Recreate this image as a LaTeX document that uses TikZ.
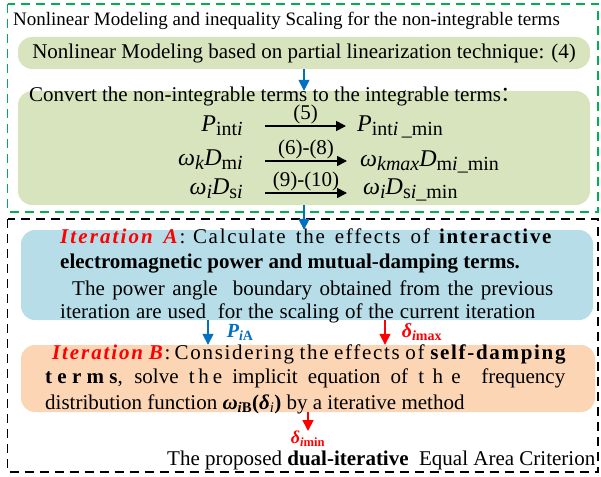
\documentclass[tikz,border=0pt]{standalone}
\usepackage{fontspec}
\setmainfont{Liberation Serif}
\newfontfamily\cjk{Noto Sans CJK SC}
\usetikzlibrary{arrows.meta,positioning}

\definecolor{FlowGreen}{RGB}{215,228,189}
\definecolor{FlowBlue}{RGB}{183,222,232}
\definecolor{FlowOrange}{RGB}{252,213,181}
\definecolor{FrameGreen}{RGB}{0,176,80}
\definecolor{ArrowBlue}{RGB}{0,112,192}
\definecolor{ArrowRed}{RGB}{255,0,0}

\newcommand{\spaced}[2][8]{{\addfontfeature{LetterSpace=#1}#2}}
\newcommand{\subtxt}[1]{\textsubscript{#1}}
\newcommand{\eqsub}[1]{\raisebox{-4pt}{\fontsize{20}{22}\selectfont #1}}
\newcommand{\bi}[1]{\textbf{\textit{#1}}}

\tikzset{
  dashframe/.style={dash pattern=on 9pt off 6pt, line width=1.3pt},
  stepbox/.style={rectangle, rounded corners=14pt, inner sep=0pt},
  textline/.style={anchor=base west, inner sep=0pt, font=\fontsize{21}{25}\selectfont},
  term/.style={inner sep=0pt, font=\fontsize{24}{26}\selectfont},
  eqarrow/.style={-{Triangle[length=10pt,width=10pt]}, line width=1.6pt},
  eqlabel/.style={above=1pt, inner sep=0pt, font=\fontsize{21}{22}\selectfont},
  flowarrow/.style={-{Triangle[length=11pt,width=11pt]}, line width=1.6pt},
  flowlabel/.style={inner sep=0pt, font=\fontsize{20}{21}\selectfont\bfseries\itshape},
}

\begin{document}
\begin{tikzpicture}[x=1pt, y=-1pt]
  \useasboundingbox (0,0) rectangle (601,476);

  % dashed frames
  \draw[dashframe, draw=FrameGreen] (7.5,4) rectangle (598,212);
  \draw[dashframe] (7.5,219) rectangle (598,472);

  % nonlinear modeling part
  \node[textline, font=\fontsize{19}{20}\selectfont] (modelTitle) at (13,26)
    {Nonlinear Modeling and inequality Scaling for the non-integrable terms};
  \node[stepbox, fill=FlowGreen, minimum width=572pt, minimum height=32pt,
        font=\fontsize{21}{25}\selectfont] (model) at (304,53)
    {Nonlinear Modeling based on partial linearization technique: (4)};
  \node[stepbox, fill=FlowGreen, minimum width=572pt, minimum height=114pt] (convert) at (304,148) {};
  \node[textline] (convertHead) at (29,102)
    {Convert the non-integrable terms to the integrable terms{\cjk ：}};

  \node[term, anchor=base east] (lhsP) at (243,131) {\textit{P}\eqsub{int\textit{i}}};
  \node[term, anchor=base west] (rhsP) at (357,131) {\textit{P}\eqsub{int\textit{i}\,\_min}};
  \node[term, anchor=base east] (lhsDm) at (243,165) {\textit{ω}\eqsub{\textit{k}}\textit{D}\eqsub{m\textit{i}}};
  \node[term, anchor=base west] (rhsDm) at (360,166) {\textit{ω}\eqsub{\textit{kmax}}\textit{D}\eqsub{m\textit{i}\_min}};
  \node[term, anchor=base east] (lhsDs) at (243,194) {\textit{ω}\eqsub{\textit{i}}\textit{D}\eqsub{s\textit{i}}};
  \node[term, anchor=base west] (rhsDs) at (363,194) {\textit{ω}\eqsub{\textit{i}}\textit{D}\eqsub{s\textit{i}\_min}};

  \draw[eqarrow] ([shift={(22pt,5pt)}]lhsP.base east) -- ([shift={(-11pt,5pt)}]rhsP.base west)
    node[midway, eqlabel] (eqP) {(5)};
  \draw[eqarrow] ([shift={(22pt,4pt)}]lhsDm.base east) -- ([shift={(-13pt,5pt)}]rhsDm.base west)
    node[midway, eqlabel] (eqDm) {(6)-(8)};
  \draw[eqarrow] ([shift={(22pt,1pt)}]lhsDs.base east) -- ([shift={(-16pt,1pt)}]rhsDs.base west)
    node[midway, eqlabel] (eqDs) {(9)-(10)};

  % dual iteration part
  \node[stepbox, fill=FlowBlue, minimum width=572pt, minimum height=90pt] (iterA) at (307,275) {};
  \node[textline] (iterA1) at (60,243) {\makebox[493pt][s]{\textcolor{ArrowRed}{\bi{\spaced[10]{Iteration A}}}:
    \spaced{Calculate the effects of} \textbf{\spaced{interactive}}}};
  \node[textline] (iterA2) at (60,268) {\textbf{electromagnetic power and mutual-damping terms.}};
  \node[textline] (iterA3) at (72,295) {\makebox[481pt][s]{The power angle \ boundary obtained from the previous}};
  \node[textline] (iterA4) at (60,318) {\makebox[475pt][s]{iteration are used \ for the scaling of the current iteration}};

  \node[stepbox, fill=FlowOrange, minimum width=574pt, minimum height=67pt] (iterB) at (308,378.5) {};
  \node[textline] (iterB1) at (52,359) {\makebox[515pt][s]{\textcolor{ArrowRed}{\bi{\spaced[9]{Iteration B}}}:
    \spaced{Considering the effects of} \textbf{\spaced{self-damping}}}};
  \node[textline] (iterB2) at (45,383) {\makebox[520pt][s]{\textbf{\spaced[25]{terms}}, solve \spaced[18]{the} implicit
    equation of \spaced[40]{the} \ frequency}};
  \node[textline] (iterB3) at (45,409) {distribution function
    \bi{ω}\subtxt{\bi{i}\textbf{B}}\textbf{(}\bi{δ}\subtxt{\textit{i}}\textbf{)} by a iterative method};

  \coordinate (piTop) at ([xshift=-99pt]iterA.south);
  \coordinate (dmaxTop) at ([xshift=78pt]iterA.south);
  \draw[flowarrow, ArrowBlue] (piTop) -- (piTop |- iterB.north)
    node[midway, right=18pt, flowlabel] (piA) {P\subtxt{i\upshape A}};
  \draw[flowarrow, ArrowRed] (dmaxTop) -- (dmaxTop |- iterB.north)
    node[midway, right=16pt, flowlabel] (dmax) {δ\subtxt{i\upshape max}};

  \node[flowlabel, text=ArrowRed, anchor=north, font=\fontsize{18}{19}\selectfont\bfseries\itshape]
    (dmin) at (308,431) {δ\subtxt{i\upshape min}};
  \draw[flowarrow, ArrowRed] (iterB.south) -- (iterB.south |- dmin.north);

  \node[textline] (criterion) at (167,465) {The proposed \textbf{dual-iterative} \ Equal Area Criterion};

  % blue connectors
  \draw[flowarrow, ArrowBlue] (model.south) -- (model.south |- convert.north);
  \draw[flowarrow, ArrowBlue] (convert.south) -- (convert.south |- iterA.north);
\end{tikzpicture}
\end{document}
